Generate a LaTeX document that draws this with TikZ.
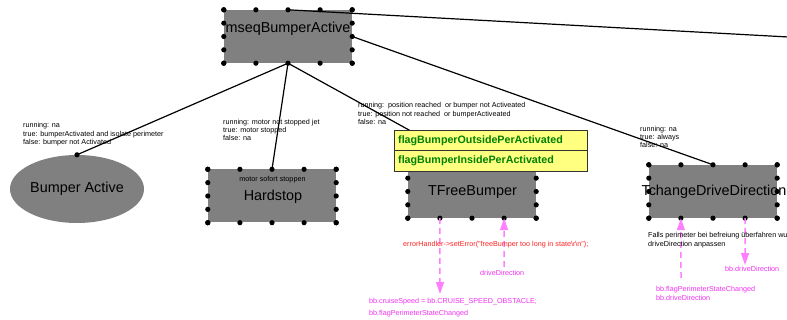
\documentclass[tikz,border=0pt]{standalone}
\usepackage{fontspec}
\setmainfont{Liberation Sans}
\usetikzlibrary{shapes.geometric,arrows.meta,calc}
\definecolor{boxgray}{HTML}{808080}
\definecolor{flagyellow}{HTML}{FFFF80}
\definecolor{flaggreen}{HTML}{008000}
\definecolor{arrowpink}{HTML}{FF80FF}
\definecolor{textpink}{HTML}{F030F0}
\definecolor{errred}{HTML}{FF2020}
\newcommand\boxdotsof[1]{%
  \foreach \t in {0,0.25,0.5,0.75,1}{%
    \fill ($(#1.north west)!\t!(#1.north east)$) circle (2.6pt);
    \fill ($(#1.south west)!\t!(#1.south east)$) circle (2.6pt);
    \fill ($(#1.north west)!\t!(#1.south west)$) circle (2.6pt);
    \fill ($(#1.north east)!\t!(#1.south east)$) circle (2.6pt);
  }}
\begin{document}
\begin{tikzpicture}[x=1pt,y=-1pt,
  statebox/.style={rectangle, fill=boxgray, minimum width=128pt, minimum height=53pt, inner sep=0pt},
  bigtext/.style={font=\fontsize{14.4}{16}\selectfont, inner sep=0pt},
  small/.style={font=\fontsize{7.2}{8.2}\selectfont, inner sep=0pt, align=left, anchor=north west},
  conn/.style={line width=1.2pt},
  flag/.style={rectangle, draw=black!80, line width=0.8pt, fill=flagyellow, minimum width=193pt, minimum height=20.5pt, inner sep=0pt, anchor=north west},
  flagtext/.style={font=\fontsize{10.7}{12}\selectfont\bfseries, text=flaggreen, inner sep=0pt, anchor=west},
  pinkarrow/.style={draw=arrowpink, line width=1.5pt, dash pattern=on 6pt off 4pt, -{Triangle[width=8pt,length=12pt]}},
  pinktext/.style={font=\fontsize{7.2}{8.2}\selectfont, text=textpink, inner sep=0pt, anchor=west},
  redtext/.style={font=\fontsize{7.2}{8.2}\selectfont, text=errred, inner sep=0pt, anchor=west},
  ]
\useasboundingbox (0,0) rectangle (787,320);
\clip (0,0) rectangle (787,320);

% state boxes
\node[statebox] (mseq) at (288,36.5) {};
\node[bigtext] (mseqt) at (288,29) {mseqBumperActive};
\node[ellipse, fill=boxgray, minimum width=134pt, minimum height=68pt, inner sep=0pt,
      font=\fontsize{14.4}{16}\selectfont] (bump) at (77,189) {Bumper Active};
\node[statebox] (hard) at (272,196) {};
\node[small, anchor=center] (hardsub) at (272.5,180) {motor sofort stoppen};
\node[bigtext] (hardt) at (273,196.5) {Hardstop};
\node[statebox] (tf) at (472,191.5) {};
\node[bigtext] (tft) at (472.5,192) {TFreeBumper};
\node[statebox] (td) at (713,191.5) {};
\node[bigtext] (tdt) at (714,192) {TchangeDriveDirection};

% connectors
\coordinate (offright) at (1000,48.5);
\draw[conn] (mseq.north) -- (offright);
\draw[conn] (mseq.east) -- (td.north);
\draw[conn] (mseq.south) -- (bump.north);
\draw[conn] (mseq.south) -- (hard.north);
\draw[conn] (mseq.south) -- (tf.north);

% dots
\boxdotsof{mseq}
\boxdotsof{hard}
\boxdotsof{tf}
\boxdotsof{td}
\fill (bump.north) circle (2.6pt);

% transition labels
\node[small] (lbump) at (23,122.5) {running: na\\true: bumperActivated and isolate perimeter\\false: bumper not Activated};
\node[small] (lhard) at (223,119) {running: motor not stopped jet\\true: motor stopped\\false: na};
\node[small] (ltf) at (358,102.5) {running:\ \ position reached\ \ or bumper not Activeated\\true: position not reached\ \ or bumperActiveated\\false: na};
\node[small] (ltd) at (640,126) {running: na\\true: always\\false: na};

% flags
\node[flag] (flag1) at (394,130) {};
\node[flagtext] at ([xshift=4pt]flag1.west) {flagBumperOutsidePerActivated};
\node[flag] (flag2) at (394,150.5) {};
\node[flagtext] at ([xshift=4pt]flag2.west) {flagBumperInsidePerActivated};

% data flow arrows
\coordinate (a1end) at (440,294);
\coordinate (a2start) at (504,267);
\coordinate (a3start) at (681,278);
\coordinate (a4end) at (745,265);
\draw[pinkarrow] ($(tf.south west)!0.25!(tf.south east)$) -- (a1end);
\draw[pinkarrow] (a2start) -- ($(tf.south west)!0.75!(tf.south east)$);
\draw[pinkarrow] (a3start) -- ($(td.south west)!0.25!(td.south east)$);
\draw[pinkarrow] ($(td.south west)!0.75!(td.south east)$) -- (a4end);

% texts below
\node[redtext] (err) at (403,245) {errorHandler->setError("freeBumper too long in state\textbackslash r\textbackslash n");};
\node[pinktext] (dd1) at (480,273) {driveDirection};
\node[pinktext] (cs) at (369,302) {bb.cruiseSpeed = bb.CRUISE\_SPEED\_OBSTACLE;};
\node[pinktext] (fp1) at (369,314) {bb.flagPerimeterStateChanged};
\node[small] (falls) at (648,232.5) {Falls perimeter bei befreiung überfahren wu\\driveDirection anpassen};
\node[pinktext] (fp2) at (656,290) {bb.flagPerimeterStateChanged};
\node[pinktext] (dd2) at (656,298) {bb.driveDirection};
\node[pinktext] (dd3) at (725,269) {bb.driveDirection};
\end{tikzpicture}
\end{document}
